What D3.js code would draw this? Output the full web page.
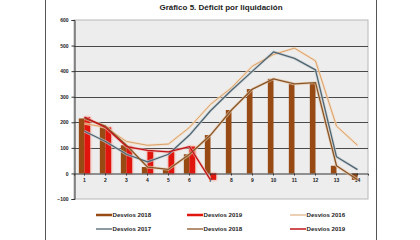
<!DOCTYPE html>
<html><head><meta charset="utf-8">
<script src="https://cdn.jsdelivr.net/npm/d3@7"></script>
<style>html,body{margin:0;padding:0;background:#fff}svg{display:block}text{font-family:"Liberation Sans",Arial,sans-serif}</style>
</head><body>
<svg id="c" width="420" height="240"></svg>
<script>
const months = ["1","2","3","4","5","6","7","8","9","10","11","12","13","14"];
const yTicks = [-100,0,100,200,300,400,500,600];
const bars2018 = [215,185,110,25,16,75,150,248,330,370,350,355,30,-25];
const bars2019 = [220,180,105,90,84,105,-25];
const line2016 = [195,180,125,110,115,180,270,335,420,465,490,440,185,110];
const line2017 = [165,125,75,45,75,150,245,325,400,475,450,405,65,15];
const line2018 = [215,185,110,25,16,75,150,248,330,370,350,355,30,-25];
const line2019 = [220,180,105,90,84,105,-25];
const legendLabels = ["Desvíos 2018","Desvíos 2019","Desvíos 2016","Desvíos 2017","Desvíos 2018","Desvíos 2019"];
const title = "Gráfico 5. Déficit por liquidación";

const svg = d3.select("#c");
const L=74,R=368,T=20,B=199;
const cBar18="#974a14", cBar19="#e0160e", c16="#d9a06a", c17="#4e6470", c18="#8a5526", c19="#c0141a";

// page frame
svg.append("line").attr("x1",45.5).attr("x2",45.5).attr("y1",0).attr("y2",240).attr("stroke","#555");
svg.append("line").attr("x1",376.5).attr("x2",376.5).attr("y1",0).attr("y2",240).attr("stroke","#555");

svg.append("text").attr("x",221).attr("y",10).attr("text-anchor","middle")
  .attr("font-size",8).attr("font-weight","bold").attr("fill","#222").text(title);

const x = d3.scaleBand().domain(months).range([L,R]);
const y = d3.scaleLinear().domain([-100,600]).range([B,T]);

svg.append("rect").attr("x",L).attr("y",T).attr("width",R-L).attr("height",B-T)
  .attr("fill","#ededed").attr("stroke","#b8b8b8");

// grid
svg.append("g").selectAll("line").data([100,200,300,400,500]).join("line")
  .attr("x1",L).attr("x2",R).attr("y1",d=>Math.round(y(d))+0.5).attr("y2",d=>Math.round(y(d))+0.5)
  .attr("stroke","#4a4a4a").attr("stroke-width",1);

// y axis
const ya = svg.append("g").attr("transform",`translate(${L+0.5},0)`)
  .call(d3.axisLeft(y).tickValues(yTicks).tickSize(3).tickPadding(3));
ya.select(".domain").attr("stroke","#333");
ya.selectAll("line").attr("stroke","#333");
ya.selectAll("text").attr("font-size",5).attr("font-weight","bold").attr("fill","#222");

// bars
const bw = x.bandwidth()*0.27;
const glow = svg.append("defs").append("filter").attr("id","gl").attr("x","-50%").attr("y","-50%").attr("width","200%").attr("height","200%");
glow.append("feGaussianBlur").attr("stdDeviation",0.8);

svg.append("g").selectAll("rect").data(bars2019).join("rect")
  .attr("x",(d,i)=>x(months[i])+x.bandwidth()/2-0.5).attr("width",bw+1)
  .attr("y",d=>Math.min(y(d),y(0))-0.5).attr("height",d=>Math.abs(y(d)-y(0))+1)
  .attr("fill","#f4a090").attr("filter","url(#gl)");
svg.append("g").selectAll("rect").data(bars2018).join("rect")
  .attr("x",(d,i)=>x(months[i])+x.bandwidth()/2-bw).attr("width",bw)
  .attr("y",d=>Math.min(y(d),y(0))).attr("height",d=>Math.abs(y(d)-y(0)))
  .attr("fill",cBar18);
svg.append("g").selectAll("rect").data(bars2019).join("rect")
  .attr("x",(d,i)=>x(months[i])+x.bandwidth()/2).attr("width",bw)
  .attr("y",d=>Math.min(y(d),y(0))).attr("height",d=>Math.abs(y(d)-y(0)))
  .attr("fill",cBar19);

// x axis at zero
const xa = svg.append("g").attr("transform",`translate(0,${Math.round(y(0))+0.5})`)
  .call(d3.axisBottom(x).tickSize(2).tickPadding(3));
xa.select(".domain").attr("stroke","#333");
xa.selectAll("line").attr("stroke","#333");
xa.selectAll("text").attr("font-size",5).attr("font-weight","bold").attr("fill","#222");

// lines
const lineGen = d3.line().x((d,i)=>x(months[i])+x.bandwidth()/2).y(d=>y(d));
const series = [
  {data:line2016,color:c16,w:1,halo:"#f6d8b8"},
  {data:line2017,color:c17,w:1.3,halo:"#c9d0d4"},
  {data:line2018,color:c18,w:1.3,halo:"#e6c9ae"},
  {data:line2019,color:c19,w:1.3,halo:"#f2b4a8"}
];
series.forEach(s=>{
  svg.append("path").attr("d",lineGen(s.data)).attr("fill","none").attr("stroke",s.halo)
    .attr("stroke-width",s.w+1.6).attr("opacity",0.7);
});
series.forEach(s=>{
  svg.append("path").attr("d",lineGen(s.data)).attr("fill","none").attr("stroke",s.color)
    .attr("stroke-width",s.w).attr("stroke-linejoin","round");
});

// legend
const legStyle = [
  {c:cBar18,w:2.5},{c:cBar19,w:2.5},{c:c16,w:1},
  {c:c17,w:1.3},{c:c18,w:1.3},{c:c19,w:1.5}
];
const colX=[96,187,290], rowY=[215,229];
const lg = svg.append("g").selectAll("g").data(legendLabels).join("g")
  .attr("transform",(d,i)=>`translate(${colX[i%3]},${rowY[Math.floor(i/3)]})`);
lg.append("line").attr("x1",0).attr("x2",16).attr("y1",0).attr("y2",0)
  .attr("stroke",(d,i)=>legStyle[i].c).attr("stroke-width",(d,i)=>legStyle[i].w);
lg.append("text").attr("x",16.5).attr("y",2.2).attr("font-size",6.1).attr("font-weight","bold")
  .attr("fill","#222").text(d=>d);
</script>
</body></html>
